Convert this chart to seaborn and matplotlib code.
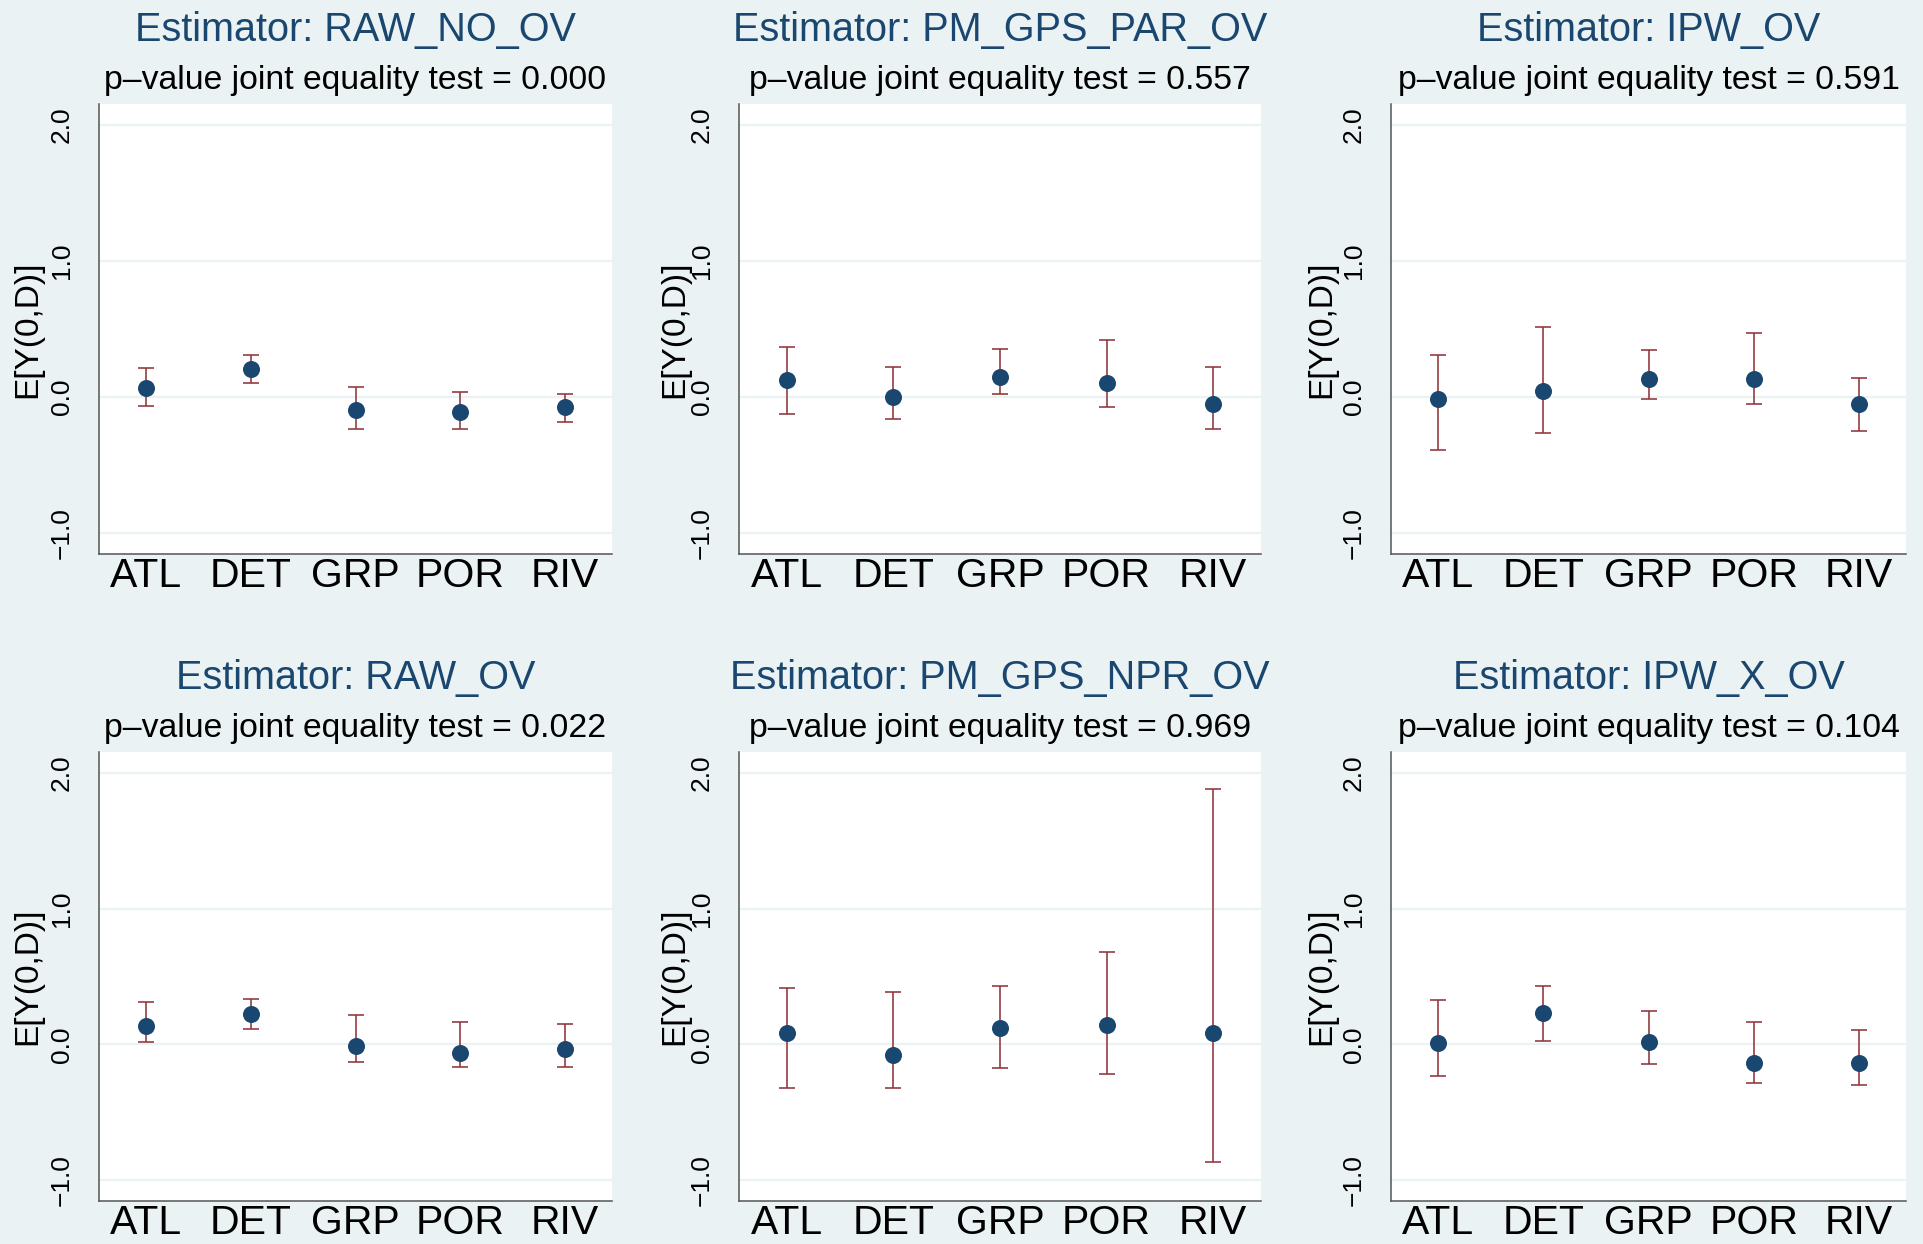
import numpy as np
import pandas as pd
import matplotlib
matplotlib.use("Agg")
import matplotlib.pyplot as plt
import seaborn as sns

# ---------------- data ----------------
sites = ["ATL", "DET", "GRP", "POR", "RIV"]
estimators = ["RAW_NO_OV", "PM_GPS_PAR_OV", "IPW_OV",
              "RAW_OV", "PM_GPS_NPR_OV", "IPW_X_OV"]
pvalues = ["0.000", "0.557", "0.591", "0.022", "0.969", "0.104"]

raw_no_ov_est = [0.067, 0.204, -0.093, -0.111, -0.073]
raw_no_ov_lo = [-0.064, 0.102, -0.236, -0.236, -0.186]
raw_no_ov_hi = [0.210, 0.306, 0.070, 0.035, 0.020]

pm_gps_par_est = [0.122, 0.000, 0.146, 0.102, -0.055]
pm_gps_par_lo = [-0.125, -0.160, 0.020, -0.073, -0.236]
pm_gps_par_hi = [0.367, 0.218, 0.352, 0.422, 0.218]

ipw_ov_est = [-0.015, 0.044, 0.134, 0.131, -0.055]
ipw_ov_lo = [-0.393, -0.265, -0.015, -0.055, -0.247]
ipw_ov_hi = [0.309, 0.512, 0.349, 0.472, 0.143]

raw_ov_est = [0.137, 0.225, -0.009, -0.064, -0.032]
raw_ov_lo = [0.015, 0.114, -0.132, -0.167, -0.164]
raw_ov_hi = [0.310, 0.333, 0.213, 0.167, 0.152]

pm_gps_npr_est = [0.085, -0.079, 0.123, 0.146, 0.082]
pm_gps_npr_lo = [-0.325, -0.325, -0.178, -0.219, -0.871]
pm_gps_npr_hi = [0.412, 0.389, 0.433, 0.684, 1.883]

ipw_x_ov_est = [0.009, 0.234, 0.015, -0.137, -0.140]
ipw_x_ov_lo = [-0.231, 0.023, -0.146, -0.287, -0.301]
ipw_x_ov_hi = [0.330, 0.427, 0.243, 0.164, 0.102]

panels = [
    (raw_no_ov_est, raw_no_ov_lo, raw_no_ov_hi),
    (pm_gps_par_est, pm_gps_par_lo, pm_gps_par_hi),
    (ipw_ov_est, ipw_ov_lo, ipw_ov_hi),
    (raw_ov_est, raw_ov_lo, raw_ov_hi),
    (pm_gps_npr_est, pm_gps_npr_lo, pm_gps_npr_hi),
    (ipw_x_ov_est, ipw_x_ov_lo, ipw_x_ov_hi),
]
yticks = [-1.0, 0.0, 1.0, 2.0]
ylabel = "E[Y(0,D)]"

# ---------------- style ----------------
sns.set_theme(style="white")
plt.rcParams["font.family"] = ["Liberation Sans", "DejaVu Sans"]

BG = "#EAF2F3"
NAVY = "#1A476F"
MAROON = "#90353B"
AXC = "#555555"

W, H = 1923, 1244
fig = plt.figure(figsize=(W / 100, H / 100), dpi=100, facecolor=BG)

col_lr = [(99, 612), (739, 1261), (1391, 1906)]
row_tb = [(104, 554), (752, 1201)]
ylab_x = [-0.139, -0.123, -0.134]

for i, (est, lo, hi) in enumerate(panels):
    r, c = divmod(i, 3)
    l, rr = col_lr[c]
    t, b = row_tb[r]
    ax = fig.add_axes([l / W, 1 - b / H, (rr - l) / W, (b - t) / H])
    ax.set_facecolor("white")

    df = pd.DataFrame({"site": sites, "x": np.arange(1, len(sites) + 1),
                       "est": est, "lo": lo, "hi": hi})

    for yv in yticks:
        ax.axhline(yv, color=BG, lw=1.6, zorder=0)

    ax.errorbar(df["x"], df["est"],
                yerr=[df["est"] - df["lo"], df["hi"] - df["est"]],
                fmt="none", ecolor=MAROON, elinewidth=1.15, capsize=5.6,
                capthick=1.15, zorder=2)
    sns.scatterplot(data=df, x="x", y="est", ax=ax, color=NAVY, s=150,
                    linewidth=0, zorder=3, legend=False)

    ax.set_xlim(0.55, 5.45)
    ax.set_ylim(-1.155, 2.155)
    ax.set_xticks(df["x"])
    ax.set_xticklabels(sites, fontsize=29.5)
    ax.set_yticks(yticks)
    ax.set_yticklabels([f"{v:.1f}".replace("-", "\u2212") for v in yticks],
                       fontsize=19, rotation=90, va="center")
    ax.tick_params(axis="x", length=0, pad=2.5, colors="black")
    ax.tick_params(axis="y", length=10, width=1.0, pad=8, color=AXC,
                   labelcolor="black")
    ax.set_xlabel("")
    ax.set_ylabel("")

    for s in ["top", "right"]:
        ax.spines[s].set_visible(False)
    for s in ["left", "bottom"]:
        ax.spines[s].set_color(AXC)
        ax.spines[s].set_linewidth(1.1)

    ax.text(ylab_x[c], 0.5, ylabel, transform=ax.transAxes, rotation=90,
            ha="center", va="center", fontsize=24, color="black")

    ax.annotate(f"Estimator: {estimators[i]}", xy=(0.5, 1.0),
                xycoords="axes fraction", xytext=(0, 45.5),
                textcoords="offset points", ha="center", va="baseline",
                fontsize=28.5, color=NAVY)
    ax.annotate(f"p\u2013value joint equality test = {pvalues[i]}",
                xy=(0.5, 1.0), xycoords="axes fraction", xytext=(0, 10.5),
                textcoords="offset points", ha="center", va="baseline",
                fontsize=24.3, color="black")

fig.savefig("out.png", dpi=100, facecolor=BG)
